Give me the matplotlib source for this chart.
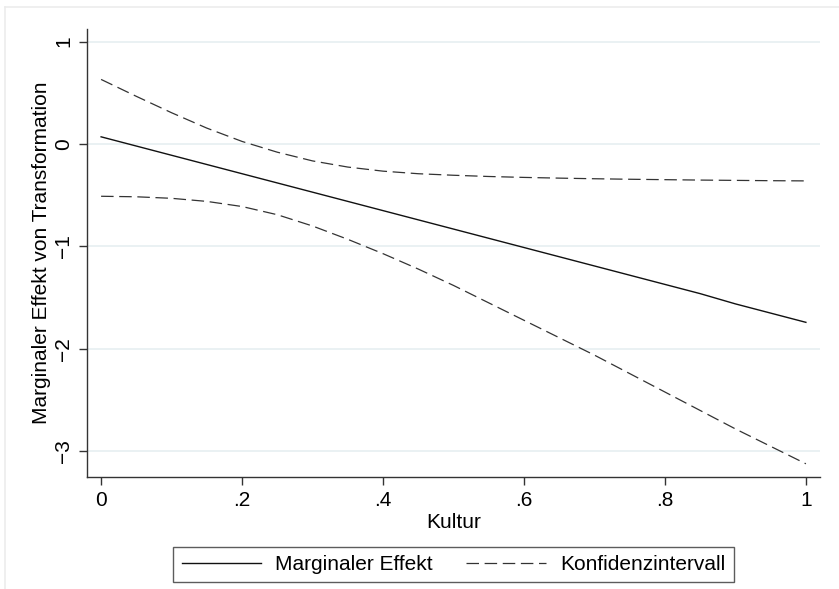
import matplotlib
matplotlib.use('Agg')
import matplotlib.pyplot as plt
from matplotlib.lines import Line2D

plt.rcParams['font.family'] = ['Liberation Sans', 'DejaVu Sans']

# Kultur values (x) and the estimates
kultur = [0, .05, .1, .15, .2, .25, .3, .35, .4, .45, .5,
          .55, .6, .65, .7, .75, .8, .85, .9, .95, 1]
effekt = [0.07, -0.02, -0.11, -0.20, -0.29, -0.38, -0.47, -0.56, -0.65, -0.74, -0.83,
          -0.92, -1.01, -1.10, -1.19, -1.28, -1.37, -1.46, -1.56, -1.65, -1.74]
ki_oben = [0.63, 0.465, 0.305, 0.155, 0.025, -0.08, -0.165, -0.225, -0.265, -0.29, -0.305,
           -0.317, -0.326, -0.333, -0.339, -0.344, -0.348, -0.352, -0.355, -0.358, -0.36]
ki_unten = [-0.51, -0.515, -0.53, -0.56, -0.61, -0.69, -0.80, -0.93, -1.07, -1.22, -1.38,
            -1.55, -1.72, -1.89, -2.06, -2.24, -2.42, -2.60, -2.78, -2.95, -3.12]

xticks = [0, .2, .4, .6, .8, 1]
xtick_labels = ['0', '.2', '.4', '.6', '.8', '1']
yticks = [1, 0, -1, -2, -3]
ytick_labels = ['1', '0', '\u22121', '\u22122', '\u22123']

W, H = 839, 589
fig = plt.figure(figsize=(W / 100, H / 100), dpi=100)
fig.patch.set_facecolor('white')

# faint outer frame (Stata graph region)
fig.add_artist(Line2D([5 / W, 1], [1 - 7 / H, 1 - 7 / H], color='#ececec', lw=1.2))
fig.add_artist(Line2D([5 / W, 5 / W], [0, 1 - 7 / H], color='#ececec', lw=1.2))

ax = fig.add_axes([87 / W, 1 - 477 / H, (820 - 87) / W, (477 - 29) / H])

for y in yticks:
    ax.axhline(y, color='#e8f0f2', lw=1.3, zorder=0)

ax.plot(kultur, effekt, color='#111111', lw=1.0, label='Marginaler Effekt')
ax.plot(kultur, ki_oben, color='#333333', lw=0.9, linestyle=(0, (10, 4.5)),
        label='Konfidenzintervall')
ax.plot(kultur, ki_unten, color='#333333', lw=0.9, linestyle=(0, (10, 4.5)))

ax.set_xlim(-0.02, 1.02)
ax.set_ylim(-3.249, 1.122)

ax.set_xticks(xticks, labels=xtick_labels)
ax.set_yticks(yticks, labels=ytick_labels, rotation=90, va='center')
ax.tick_params(axis='both', direction='out', length=6, width=1, color='#333333',
               labelsize=15)
ax.tick_params(axis='x', pad=4)
ax.tick_params(axis='y', pad=4)

for s in ['top', 'right']:
    ax.spines[s].set_visible(False)
for s in ['left', 'bottom']:
    ax.spines[s].set_color('#333333')
    ax.spines[s].set_linewidth(1)

ax.set_xlabel('Kultur', fontsize=15, labelpad=2)
ax.set_ylabel('Marginaler Effekt von Transformation', fontsize=15, labelpad=2)

leg = ax.legend(loc='center', bbox_to_anchor=(453.5 / W, 1 - 564.5 / H),
                bbox_transform=fig.transFigure, ncol=2, fontsize=15,
                frameon=True, fancybox=False, handlelength=3.8,
                handletextpad=0.7, columnspacing=1.6, borderpad=0.4)
leg.get_frame().set_edgecolor('#333333')
leg.get_frame().set_linewidth(1)

fig.savefig('out.png', dpi=100, facecolor='white')
